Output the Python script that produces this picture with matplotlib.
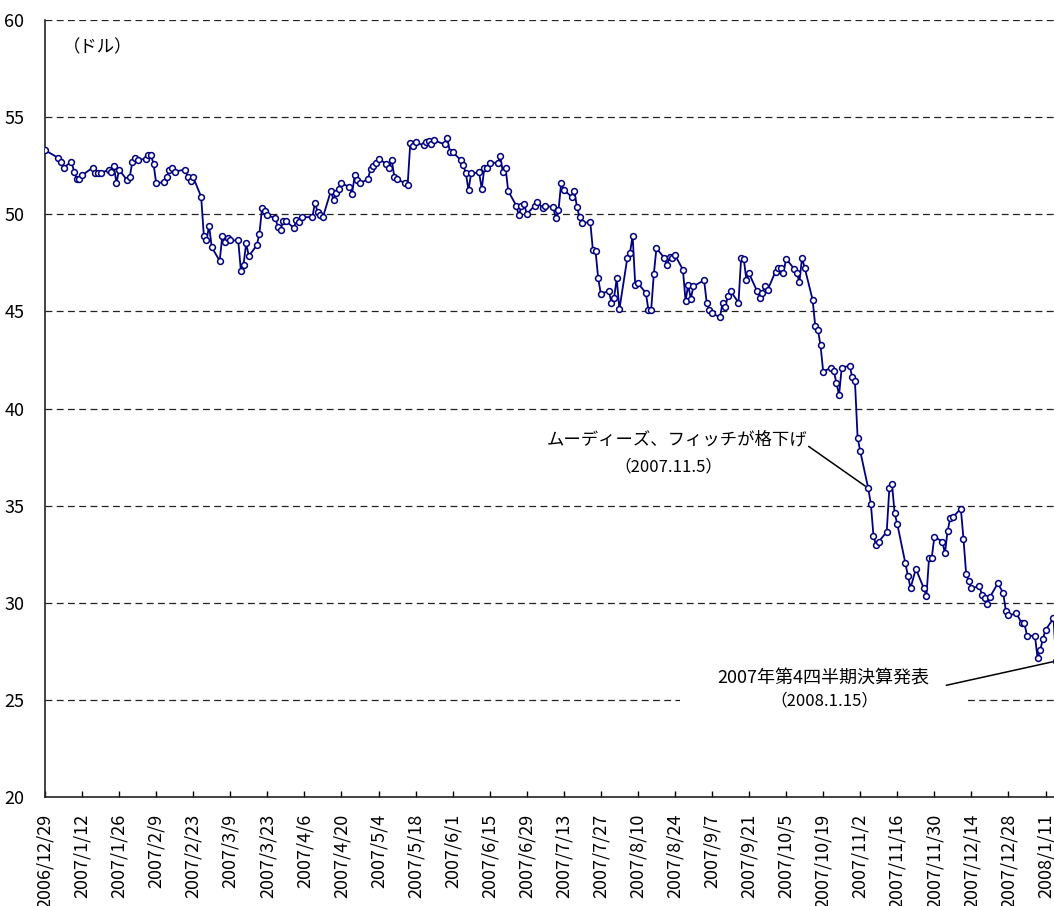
import matplotlib
matplotlib.use("Agg")
import matplotlib.pyplot as plt
import matplotlib.dates as mdates
from matplotlib.patches import Rectangle
from matplotlib.ticker import FixedLocator, FuncFormatter
import numpy as np
import pandas as pd

plt.rcParams['font.family'] = ['Noto Sans CJK JP', 'DejaVu Sans']

# NYSE closed days in the range
holidays = ["2007-01-01", "2007-01-02", "2007-01-15", "2007-02-19", "2007-04-06",
            "2007-05-28", "2007-07-04", "2007-09-03", "2007-11-22", "2007-12-25",
            "2008-01-01"]
days = pd.bdate_range("2006-12-29", "2008-01-15")
days = days[~days.isin(pd.to_datetime(holidays))]

# closing price (USD), one entry per trading day
price = [
    53.3,
    52.9, 52.7, 52.4,
    52.7, 52.2, 51.8, 51.8, 52.0,
    52.4, 52.1, 52.1, 52.1,
    52.3, 52.2, 52.5, 51.6, 52.3,
    51.75, 51.9, 52.7, 52.9, 52.8,
    52.85, 53.05, 53.05, 52.6, 51.6,
    51.65, 51.9, 52.3, 52.4, 52.2,
    52.3, 51.9, 51.7, 51.9,
    50.9, 48.9, 48.65, 49.4, 48.3,
    47.6, 48.9, 48.55, 48.8, 48.65,
    48.65, 47.1, 47.4, 48.5, 47.85,
    48.4, 49.0, 50.3, 50.15, 49.95,
    49.8, 49.35, 49.2, 49.65, 49.65,
    49.3, 49.7, 49.6, 49.85,
    49.85, 50.6, 50.1, 49.95, 49.85,
    51.2, 50.75, 51.1, 51.3, 51.6,
    51.4, 51.05, 52.0, 51.75, 51.6,
    51.8, 52.35, 52.5, 52.65, 52.85,
    52.6, 52.4, 52.8, 51.9, 51.8,
    51.6, 51.5, 53.65, 53.5, 53.7,
    53.55, 53.7, 53.75, 53.6, 53.8,
    53.6, 53.9, 53.2, 53.2,
    52.8, 52.55, 52.1, 51.25, 52.1,
    52.15, 51.3, 52.4, 52.4, 52.65,
    52.65, 53.0, 52.15, 52.4, 51.2,
    50.45, 49.95, 50.4, 50.55, 50.0,
    50.45, 50.65, 50.3, 50.45,
    50.35, 49.8, 50.2, 51.6, 51.25,
    50.9, 51.2, 50.35, 49.85, 49.55,
    49.6, 48.15, 48.1, 46.7, 45.9,
    46.05, 45.45, 45.7, 46.7, 45.1,
    47.75, 48.0, 48.9, 46.35, 46.45,
    45.95, 45.05, 45.05, 46.9, 48.25,
    47.75, 47.4, 47.8, 47.75, 47.9,
    47.15, 45.55, 46.35, 45.65, 46.3,
    46.6, 45.45, 45.05, 44.9,
    44.7, 45.45, 45.2, 45.8, 46.05,
    45.45, 47.75, 47.7, 46.6, 46.95,
    46.05, 45.7, 45.95, 46.3, 46.1,
    47.05, 47.25, 47.25, 47.0, 47.7,
    47.2, 47.0, 46.5, 47.75, 47.25,
    45.6, 44.25, 44.05, 43.25, 41.9,
    42.1, 41.95, 41.3, 40.7, 42.1,
    42.2, 41.6, 41.4, 38.5, 37.8,
    35.9, 35.1, 33.45, 32.95, 33.15,
    33.65, 35.9, 36.1, 34.6, 34.05,
    32.05, 31.4, 30.75, 31.75,
    30.75, 30.35, 32.3, 32.3, 33.4,
    33.15, 32.55, 33.7, 34.35, 34.4,
    34.85, 33.3, 31.5, 31.1, 30.75,
    30.85, 30.4, 30.25, 29.95, 30.3,
    31.0, 30.5, 29.6, 29.35,
    29.45, 28.95, 28.95, 28.3,
    28.3, 27.15, 27.55, 28.15, 28.6,
    29.2, 27.0,
]
assert len(price) == len(days), (len(price), len(days))

tick_days = pd.date_range("2006-12-29", "2008-01-11", freq="14D")
y_ticks = [20, 25, 30, 35, 40, 45, 50, 55, 60]

note1 = "ムーディーズ、フィッチが格下げ"
note1_date = "（2007.11.5）"
note2 = "2007年第4四半期決算発表"
note2_date = "（2008.1.15）"

fig = plt.figure(figsize=(10.54, 9.06), dpi=100)
ax = fig.add_axes([45 / 1054, 1 - 797 / 906, 1 - 45 / 1054, 777 / 906])

x = mdates.date2num(days.to_pydatetime())
ax.plot(x, price, color="#000080", lw=1.3, marker="o", ms=4.2,
        mfc="white", mec="#000080", mew=1.1, zorder=5)

x0 = mdates.date2num(pd.Timestamp("2006-12-29"))
ax.set_xlim(x0, x0 + 381.2)
ax.set_ylim(20, 60)

# dashed horizontal grid
for v in y_ticks[1:]:
    ax.axhline(v, color="#222222", lw=0.9, dashes=(5.5, 3.5), zorder=1)

ax.yaxis.set_major_locator(FixedLocator(y_ticks))
ax.tick_params(axis="y", length=0, pad=15, labelsize=13)

ax.xaxis.set_major_locator(FixedLocator(mdates.date2num(tick_days.to_pydatetime())))
ax.xaxis.set_major_formatter(FuncFormatter(
    lambda v, p: "{0.year}/{0.month}/{0.day}".format(mdates.num2date(v))))
ax.tick_params(axis="x", direction="in", length=4, width=1, pad=12,
               labelsize=13, labelrotation=90)

for s in ["top", "right"]:
    ax.spines[s].set_visible(False)
for s in ["left", "bottom"]:
    ax.spines[s].set_linewidth(1.2)
    ax.spines[s].set_color("#222222")

ax.text(0.018, 0.965, "（ドル）", transform=ax.transAxes, fontsize=12.5,
        ha="left", va="center")

# annotation: downgrade
d1 = mdates.date2num(pd.Timestamp("2007-11-05"))
p1 = price[list(days).index(pd.Timestamp("2007-11-05"))]
ax.text(x0 + 238.8, 38.38, note1, fontsize=12.5, ha="center", va="center", zorder=3)
ax.text(x0 + 235.5, 37.0, note1_date, fontsize=12, ha="center", va="center", zorder=3)
ax.annotate("", xy=(d1, p1), xytext=(x0 + 288.5, 38.05),
            arrowprops=dict(arrowstyle="-", color="black", lw=1.1,
                            shrinkA=0, shrinkB=2.5), zorder=4)

# annotation: Q4 results (white text box hides the grid line behind it)
d2 = mdates.date2num(pd.Timestamp("2008-01-15"))
p2 = price[-1]
ax.add_patch(Rectangle((x0 + 240, 23.9), 108.7, 3.4, fc="white", ec="none", zorder=2))
ax.text(x0 + 293.9, 26.1, note2, fontsize=13, ha="center", va="center", zorder=3)
ax.text(x0 + 294.5, 24.95, note2_date, fontsize=12, ha="center", va="center", zorder=3)
ax.annotate("", xy=(d2, p2), xytext=(x0 + 340.5, 25.75), annotation_clip=False,
            arrowprops=dict(arrowstyle="-", color="black", lw=1.1,
                            shrinkA=0, shrinkB=2.5), zorder=4)

fig.savefig("out.png", dpi=100)
